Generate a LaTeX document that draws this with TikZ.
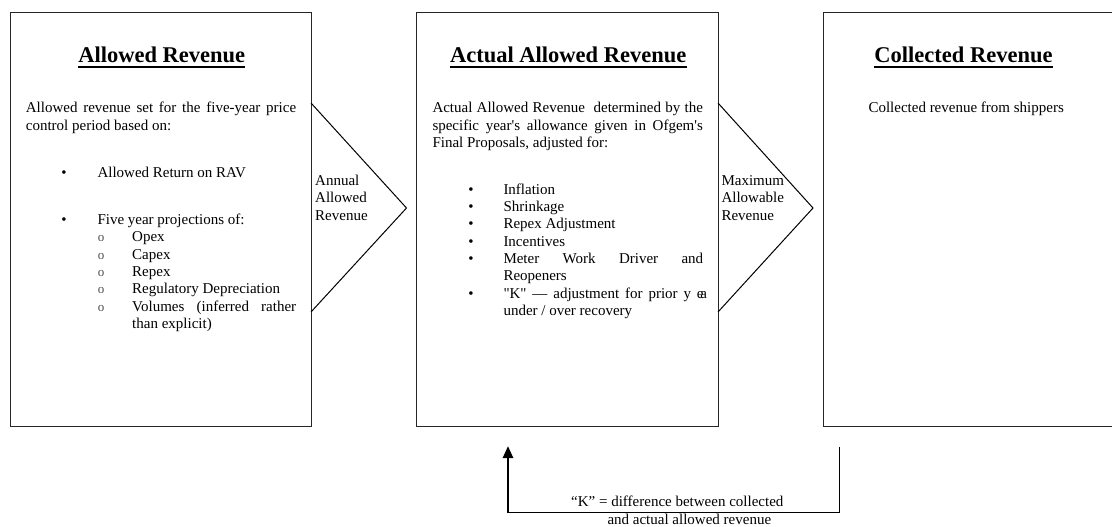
\documentclass[tikz,border=0pt]{standalone}
\usepackage{fontspec}
\setmainfont{Liberation Serif}[Ligatures=TeXOff]
\usetikzlibrary{arrows.meta}
\begin{document}
\begin{tikzpicture}[x=1pt,y=-1pt,
  panel/.style={draw=black!85, line width=1.3pt, inner sep=0pt, minimum height=414pt, anchor=north west},
  chevron/.style={draw=black, line width=1pt, line join=miter},
  title/.style={font=\fontsize{22.5}{26}\selectfont\bfseries, inner sep=0pt, anchor=base},
  uline/.style={line width=1.8pt},
  body/.style={font=\fontsize{15}{17.3}\selectfont, inner sep=0pt, anchor=north west, align=justify},
  lbl/.style={font=\fontsize{15}{17.4}\selectfont, inner sep=0pt, anchor=north west, align=left},
  txt/.style={font=\fontsize{15}{17.3}\selectfont, inner sep=0pt, anchor=base west},
  dot/.style={font=\fontsize{15}{17.3}\selectfont, inner sep=0pt, anchor=base},
  ring/.style={font=\fontsize{13}{17.3}\selectfont, text=black!70, inner sep=0pt, anchor=base},
  fb/.style={draw=black, line width=1pt},
  fbarrow/.style={draw=black, line width=2.5pt, -{Triangle[length=12pt,width=10pt]}}
]
\useasboundingbox (0,0) rectangle (1112,527);
\clip (0,0) rectangle (1112,527);

% panels
\node[panel, minimum width=301pt] (b1) at (10,12) {};
\node[panel, minimum width=302pt] (b2) at (416,12) {};
\node[panel, minimum width=320pt] (b3) at (823,12) {};

% chevrons
\draw[chevron] (311,103) -- (406.5,208) -- (311,312);
\draw[chevron] (718,103) -- (813,208) -- (718,312);

% titles
\node[title] (t1) at (161.7,62.5) {Allowed Revenue};
\node[title] (t2) at (568.2,62.5) {Actual Allowed Revenue};
\node[title] (t3) at (963.5,62.5) {Collected Revenue};
\foreach \t in {t1,t2,t3}{
  \draw[uline] ([yshift=-4.5pt]\t.base west) -- ([yshift=-4.5pt]\t.base east);
}

% box 1
\node[body, text width=270.3pt] (p1) at (25.7,100.6)
  {\strut Allowed revenue set for the five-year price\linebreak control period based on:};
\node[dot] (d11) at (64,177.3) {•};
\node[txt] (i11) at (97.3,177.3) {Allowed Return on RAV};
\node[dot] (d12) at (64,224) {•};
\node[txt] (i12) at (97.3,224) {Five year projections of:};
\node[ring] (o1) at (101.2,241.7) {o};
\node[txt] (s1) at (132,241.7) {Opex};
\node[ring] (o2) at (101.2,259.2) {o};
\node[txt] (s2) at (132,259.2) {Capex};
\node[ring] (o3) at (101.2,276.6) {o};
\node[txt] (s3) at (132,276.6) {Repex};
\node[ring] (o4) at (101.2,293.7) {o};
\node[txt] (s4) at (132,293.7) {Regulatory Depreciation};
\node[ring] (o5) at (101.2,311.2) {o};
\node[body, text width=164pt] (s5) at (132,299.1)
  {\strut Volumes (inferred rather\linebreak than explicit)};

% arrow labels
\node[lbl] (a1) at (315,172.9) {\strut Annual\\Allowed\\Revenue};
\node[lbl] (a2) at (721.3,172.9) {\strut Maximum\\Allowable\\Revenue};

% box 2
\node[body, text width=270.4pt] (p2) at (432.3,100.6)
  {\strut Actual Allowed Revenue\ \ determined by the\linebreak specific year's allowance given in Ofgem's\linebreak Final Proposals, adjusted for:};
\node[dot] (d21) at (471,194.3) {•};
\node[txt] (j1) at (503.3,194.3) {Inflation};
\node[dot] (d22) at (471,211.5) {•};
\node[txt] (j2) at (503.3,211.5) {Shrinkage};
\node[dot] (d23) at (471,228.8) {•};
\node[txt] (j3) at (503.3,228.8) {Repex Adjustment};
\node[dot] (d24) at (471,246) {•};
\node[txt] (j4) at (503.3,246) {Incentives};
\node[dot] (d25) at (471,263.2) {•};
\node[body, text width=199.7pt] (j5) at (503.3,251.1)
  {\strut Meter Work Driver and\linebreak Reopeners};
\node[dot] (d26) at (471,298.3) {•};
\node[body, text width=203.5pt] (j6) at (503.3,286.2)
  {\strut "K" — adjustment for prior y e\kern-0.22em a\linebreak under / over recovery};

% box 3
\node[txt] (p3) at (868.3,112.7) {Collected revenue from shippers};

% feedback loop
\coordinate (kstart) at (839,446.5);
\coordinate (kcorner) at (508,512.8);
\coordinate (kend) at (508,446);
\draw[fb] (kstart) |- (kcorner);
\draw[fbarrow] (kcorner) -- (kend);
\node[txt] (k1) at (571,506.5) {“K” = difference between collected};
\node[txt] (k2) at (607.3,524.8) {and actual allowed revenue};
\end{tikzpicture}
\end{document}
